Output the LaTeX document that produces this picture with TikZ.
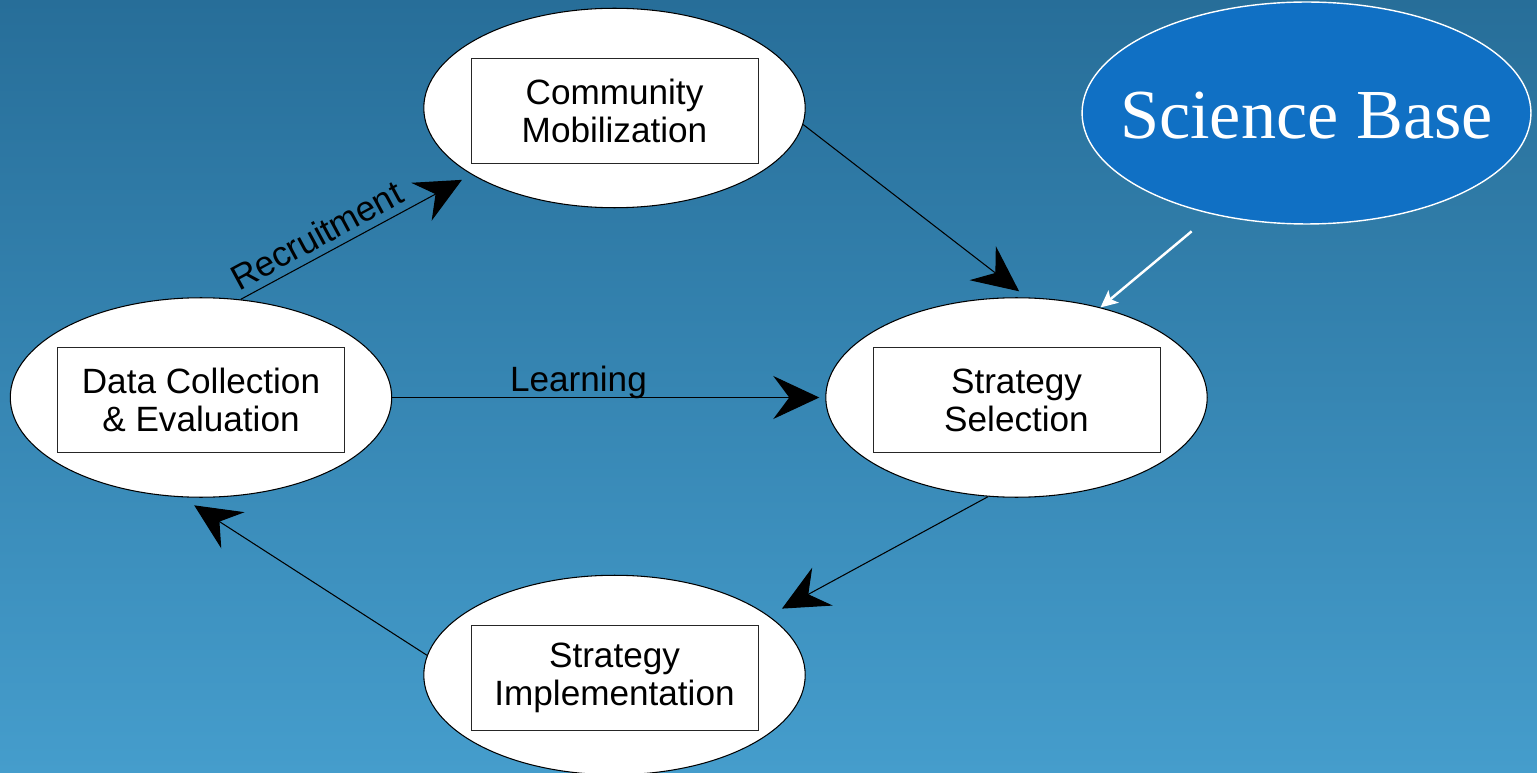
\documentclass[tikz,border=0pt]{standalone}
\usepackage{fontspec}
\setmainfont{Liberation Sans}
\newfontfamily\sciencefont{Liberation Serif}
\usetikzlibrary{shapes.geometric,arrows.meta}
\definecolor{bgtop}{HTML}{276E99}
\definecolor{bgbottom}{HTML}{459DCC}
\definecolor{sciblue}{HTML}{1070C4}
\begin{document}
\begin{tikzpicture}[x=0.02cm,y=-0.02cm,
  stage/.style={ellipse,draw,fill=white,line width=0.6pt,minimum width=7.63cm,minimum height=3.99cm,inner sep=0pt},
  stagebox/.style={rectangle,draw=black!85,line width=0.5pt,minimum width=5.74cm,minimum height=2.1cm,yshift=-0.05cm,align=center,font=\fontsize{20}{21.6}\selectfont},
  flow/.style={line width=0.6pt,-{Stealth[length=0.92cm,width=0.86cm,inset=0.32cm]}},
  tag/.style={font=\fontsize{20}{24}\selectfont}]
  \useasboundingbox (0,0) rectangle (1537,773);
  \shade[top color=bgtop,bottom color=bgbottom] (0,0) rectangle (1537,773);
  \node[stage] (comm) at (614.5,108) {};
  \node[stagebox] (commbox) at (comm) {Community\\Mobilization};
  \node[stage] (data) at (201,397.5) {};
  \node[stagebox] (databox) at (data) {Data Collection\\\& Evaluation};
  \node[stage] (sel) at (1016.5,397.5) {};
  \node[stagebox] (selbox) at (sel) {Strategy\\Selection};
  \node[stage] (impl) at (614.5,675) {};
  \node[stagebox] (implbox) at (impl) {Strategy\\Implementation};
  \node[ellipse,draw=white,fill=sciblue,line width=0.8pt,minimum width=8.98cm,minimum height=4.44cm,inner sep=0pt] (science) at (1306.5,113) {};
  \node[text=white,font=\sciencefont\fontsize{40}{44}\selectfont,yshift=-0.06cm] (sciencetext) at (science) {Science Base};
  % the cycle of stages
  \draw[flow,shorten >=0.22cm] (data.68) -- node[tag,pos=0.37,sloped,above,inner sep=4pt] {Recruitment} (comm.205.2);
  \draw[flow,shorten >=0.2cm] (comm.-5.75) -- (sel.84.6);
  \draw[flow,shorten >=0.3cm] (sel.254.4) -- (impl.21.8);
  \draw[flow,shorten >=0.3cm] (impl.174.9) -- (data.259.4);
  \draw[flow,shorten >=0.12cm] (data.east) -- node[tag,pos=0.43,above,inner sep=0pt,yshift=-0.03cm] {Learning} (sel.west);
  \draw[white,line width=1.4pt,-{Stealth[length=0.34cm,width=0.32cm,inset=0.08cm]},shorten <=0.53cm] (science.227.4) -- (sel.47);
\end{tikzpicture}
\end{document}
